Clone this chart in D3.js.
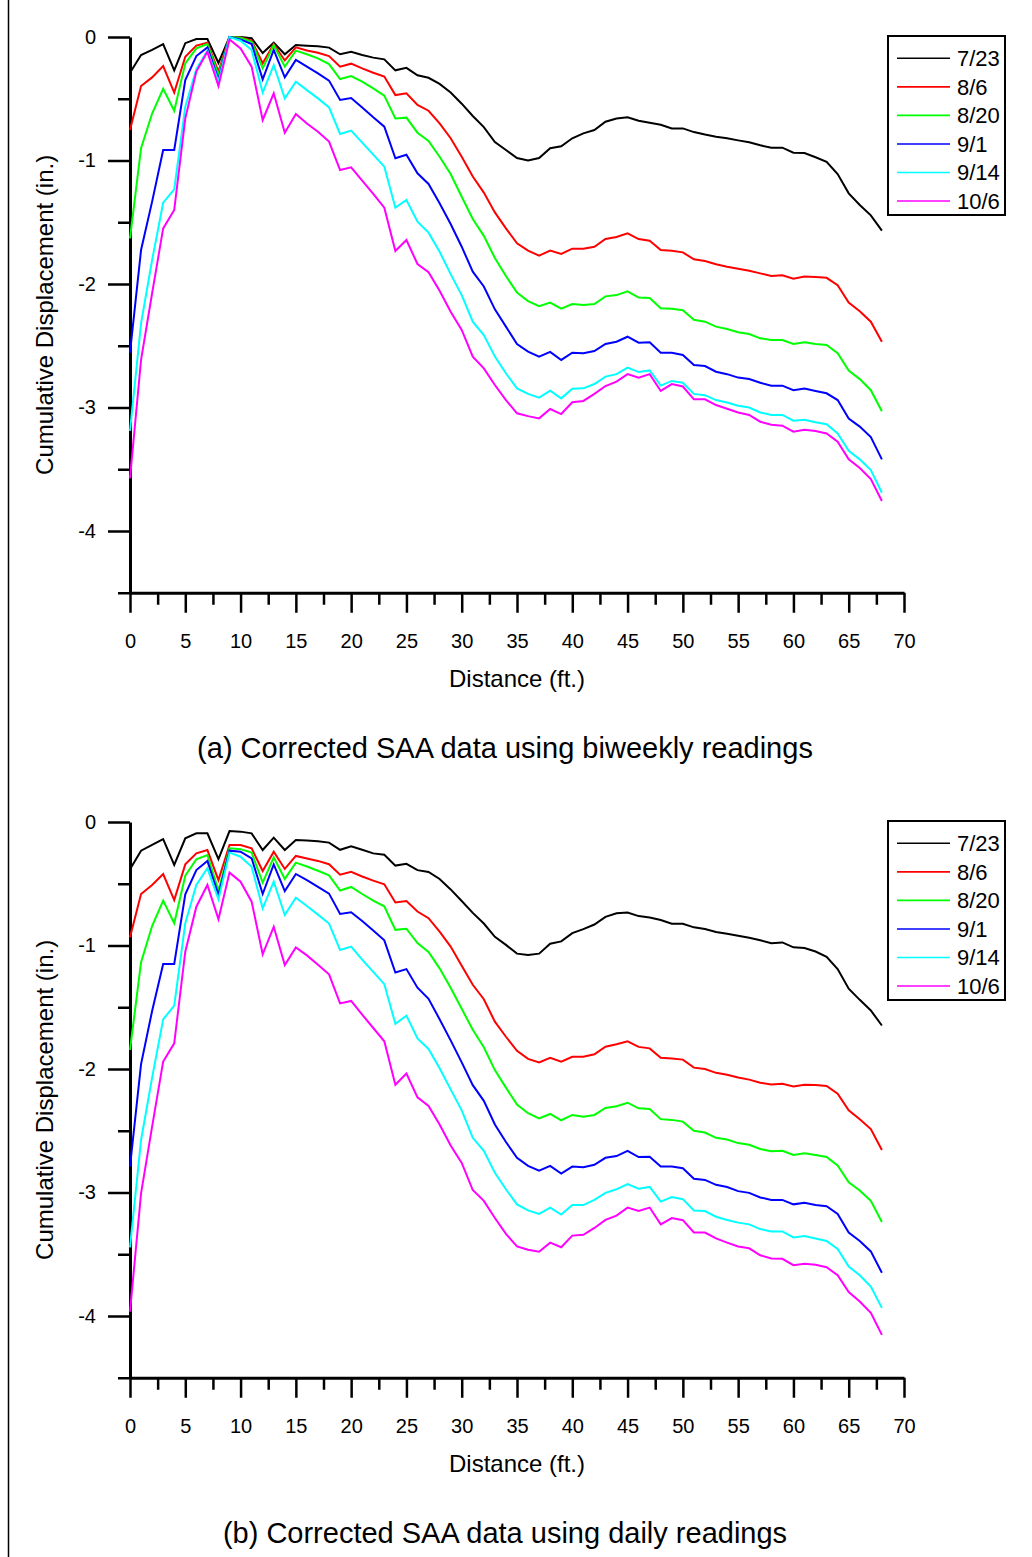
<!DOCTYPE html>
<html><head><meta charset="utf-8">
<script src="https://cdn.jsdelivr.net/npm/d3@7"></script>
<style>
body{margin:0;background:#fff}
svg{display:block}
text{font-family:"Liberation Sans",Arial,Helvetica,sans-serif;fill:#000}
</style>
</head><body>
<svg id="chart" width="1032" height="1557"></svg>
<script>
// ---------------- data ----------------
const distance = [0,1,2,3,4,5,6,7,8,9,10,11,12,13,14,15,16,17,18,19,20,21,22,23,24,25,26,27,28,29,30,31,32,33,34,35,36,37,38,39,40,41,42,43,44,45,46,47,48,49,50,51,52,53,54,55,56,57,58,59,60,61,62,63,64,65,66,67,68];
const seriesNames = ["7/23","8/6","8/20","9/1","9/14","10/6"];
const xTicks = [0,5,10,15,20,25,30,35,40,45,50,55,60,65,70];
const xMinorTicks = [2.5,7.5,12.5,17.5,22.5,27.5,32.5,37.5,42.5,47.5,52.5,57.5,62.5,67.5];
const yTicks = [0,-1,-2,-3,-4];
const yMinorTicks = [-0.5,-1.5,-2.5,-3.5,-4.5];
const xTitle = "Distance (ft.)";
const yTitle = "Cumulative Displacement (in.)";
const captions = ["(a) Corrected SAA data using biweekly readings","(b) Corrected SAA data using daily readings"];

// (a) biweekly readings
const biweekly_0723 = [-0.29,-0.146,-0.105,-0.057,-0.27,-0.05,-0.016,-0.016,-0.21,0,0,-0.01,-0.13,-0.046,-0.14,-0.065,-0.07,-0.075,-0.086,-0.14,-0.119,-0.146,-0.167,-0.181,-0.27,-0.25,-0.31,-0.33,-0.38,-0.45,-0.54,-0.64,-0.73,-0.85,-0.915,-0.98,-1.0,-0.98,-0.90,-0.885,-0.82,-0.78,-0.753,-0.686,-0.66,-0.65,-0.678,-0.694,-0.71,-0.74,-0.74,-0.77,-0.79,-0.807,-0.82,-0.837,-0.853,-0.877,-0.896,-0.896,-0.937,-0.94,-0.974,-1.01,-1.11,-1.266,-1.36,-1.444,-1.568];
const biweekly_0806 = [-0.753,-0.397,-0.327,-0.235,-0.45,-0.16,-0.07,-0.046,-0.28,0,-0.003,-0.03,-0.213,-0.057,-0.19,-0.084,-0.11,-0.127,-0.154,-0.24,-0.216,-0.254,-0.289,-0.32,-0.47,-0.456,-0.55,-0.597,-0.70,-0.82,-0.97,-1.13,-1.26,-1.42,-1.55,-1.67,-1.73,-1.77,-1.73,-1.757,-1.714,-1.714,-1.698,-1.636,-1.62,-1.59,-1.636,-1.65,-1.725,-1.73,-1.744,-1.80,-1.814,-1.84,-1.86,-1.876,-1.892,-1.914,-1.935,-1.93,-1.957,-1.94,-1.943,-1.95,-2.01,-2.15,-2.22,-2.305,-2.467];
const biweekly_0820 = [-1.63,-0.90,-0.62,-0.42,-0.597,-0.213,-0.092,-0.057,-0.308,0,-0.006,-0.038,-0.254,-0.065,-0.24,-0.11,-0.14,-0.173,-0.219,-0.34,-0.316,-0.362,-0.416,-0.475,-0.66,-0.653,-0.775,-0.842,-0.97,-1.11,-1.293,-1.474,-1.61,-1.79,-1.935,-2.07,-2.138,-2.18,-2.15,-2.2,-2.162,-2.17,-2.162,-2.10,-2.09,-2.06,-2.11,-2.113,-2.197,-2.2,-2.213,-2.29,-2.305,-2.345,-2.364,-2.39,-2.405,-2.44,-2.453,-2.453,-2.486,-2.472,-2.486,-2.494,-2.56,-2.70,-2.77,-2.86,-3.03];
const biweekly_0901 = [-2.556,-1.725,-1.333,-0.915,-0.915,-0.348,-0.154,-0.084,-0.343,0,-0.019,-0.057,-0.343,-0.105,-0.327,-0.186,-0.24,-0.294,-0.353,-0.51,-0.494,-0.57,-0.65,-0.726,-0.982,-0.953,-1.104,-1.19,-1.347,-1.514,-1.698,-1.90,-2.02,-2.205,-2.345,-2.486,-2.548,-2.588,-2.55,-2.615,-2.556,-2.56,-2.543,-2.486,-2.467,-2.427,-2.475,-2.472,-2.556,-2.556,-2.575,-2.656,-2.664,-2.71,-2.73,-2.758,-2.77,-2.80,-2.823,-2.823,-2.86,-2.847,-2.866,-2.885,-2.94,-3.09,-3.155,-3.24,-3.42];
const biweekly_0914 = [-3.19,-2.318,-1.806,-1.342,-1.233,-0.564,-0.26,-0.11,-0.362,0,-0.03,-0.105,-0.45,-0.227,-0.497,-0.362,-0.43,-0.497,-0.57,-0.785,-0.758,-0.855,-0.953,-1.05,-1.382,-1.32,-1.495,-1.584,-1.738,-1.92,-2.09,-2.305,-2.413,-2.588,-2.723,-2.845,-2.89,-2.92,-2.864,-2.926,-2.848,-2.845,-2.81,-2.75,-2.73,-2.677,-2.713,-2.70,-2.823,-2.785,-2.80,-2.89,-2.90,-2.94,-2.96,-2.985,-3.0,-3.04,-3.06,-3.06,-3.107,-3.10,-3.12,-3.136,-3.21,-3.35,-3.42,-3.506,-3.69];
const biweekly_1006 = [-3.574,-2.615,-2.075,-1.55,-1.40,-0.66,-0.28,-0.12,-0.397,-0.02,-0.092,-0.24,-0.672,-0.456,-0.775,-0.623,-0.70,-0.767,-0.847,-1.077,-1.055,-1.163,-1.27,-1.382,-1.733,-1.644,-1.838,-1.905,-2.054,-2.224,-2.372,-2.588,-2.683,-2.818,-2.94,-3.047,-3.07,-3.088,-3.012,-3.053,-2.958,-2.947,-2.89,-2.826,-2.79,-2.73,-2.758,-2.73,-2.866,-2.81,-2.83,-2.934,-2.934,-2.98,-3.01,-3.04,-3.06,-3.115,-3.14,-3.147,-3.196,-3.18,-3.19,-3.21,-3.277,-3.42,-3.49,-3.58,-3.757];

// (b) daily readings
const daily_0723 = [-0.383,-0.232,-0.186,-0.138,-0.348,-0.132,-0.092,-0.092,-0.30,-0.073,-0.078,-0.092,-0.227,-0.127,-0.227,-0.146,-0.15,-0.155,-0.167,-0.225,-0.197,-0.225,-0.254,-0.265,-0.353,-0.339,-0.39,-0.404,-0.461,-0.546,-0.64,-0.736,-0.822,-0.93,-0.995,-1.066,-1.077,-1.066,-0.986,-0.967,-0.90,-0.867,-0.83,-0.768,-0.739,-0.733,-0.762,-0.773,-0.793,-0.824,-0.824,-0.853,-0.867,-0.89,-0.904,-0.921,-0.938,-0.958,-0.981,-0.975,-1.015,-1.02,-1.049,-1.091,-1.191,-1.35,-1.44,-1.526,-1.648];
const daily_0806 = [-0.934,-0.583,-0.51,-0.421,-0.632,-0.343,-0.254,-0.227,-0.47,-0.186,-0.186,-0.213,-0.397,-0.24,-0.38,-0.275,-0.295,-0.315,-0.342,-0.427,-0.404,-0.441,-0.475,-0.504,-0.651,-0.64,-0.725,-0.779,-0.887,-1.009,-1.163,-1.318,-1.435,-1.617,-1.739,-1.853,-1.918,-1.947,-1.909,-1.941,-1.901,-1.901,-1.881,-1.819,-1.80,-1.776,-1.821,-1.833,-1.909,-1.915,-1.924,-1.989,-2.0,-2.031,-2.046,-2.069,-2.086,-2.111,-2.125,-2.12,-2.142,-2.128,-2.13,-2.137,-2.20,-2.335,-2.406,-2.486,-2.656];
const daily_0820 = [-1.846,-1.136,-0.842,-0.637,-0.82,-0.435,-0.302,-0.267,-0.556,-0.213,-0.22,-0.248,-0.491,-0.286,-0.461,-0.329,-0.36,-0.395,-0.432,-0.555,-0.526,-0.583,-0.637,-0.683,-0.873,-0.864,-0.981,-1.052,-1.185,-1.342,-1.512,-1.682,-1.824,-2.009,-2.151,-2.287,-2.358,-2.40,-2.364,-2.415,-2.372,-2.386,-2.372,-2.316,-2.301,-2.273,-2.318,-2.324,-2.406,-2.412,-2.426,-2.50,-2.514,-2.557,-2.571,-2.60,-2.614,-2.648,-2.665,-2.662,-2.696,-2.682,-2.696,-2.713,-2.781,-2.917,-2.983,-3.068,-3.239];
const daily_0901 = [-2.791,-1.96,-1.53,-1.15,-1.15,-0.586,-0.389,-0.316,-0.591,-0.232,-0.24,-0.294,-0.583,-0.343,-0.559,-0.421,-0.47,-0.525,-0.58,-0.745,-0.731,-0.802,-0.878,-0.958,-1.219,-1.191,-1.342,-1.432,-1.597,-1.768,-1.946,-2.131,-2.258,-2.449,-2.591,-2.719,-2.784,-2.823,-2.784,-2.846,-2.79,-2.795,-2.776,-2.719,-2.705,-2.662,-2.713,-2.71,-2.79,-2.79,-2.804,-2.889,-2.898,-2.938,-2.955,-2.989,-3.003,-3.04,-3.06,-3.06,-3.096,-3.083,-3.102,-3.111,-3.173,-3.324,-3.392,-3.477,-3.65];
const daily_0914 = [-3.444,-2.575,-2.07,-1.598,-1.487,-0.82,-0.51,-0.375,-0.626,-0.248,-0.281,-0.362,-0.699,-0.483,-0.753,-0.613,-0.68,-0.75,-0.822,-1.037,-1.009,-1.114,-1.214,-1.313,-1.634,-1.568,-1.753,-1.838,-1.994,-2.165,-2.335,-2.557,-2.662,-2.841,-2.974,-3.096,-3.145,-3.173,-3.122,-3.179,-3.102,-3.102,-3.06,-3.003,-2.974,-2.932,-2.969,-2.955,-3.074,-3.037,-3.054,-3.145,-3.15,-3.196,-3.222,-3.244,-3.258,-3.296,-3.315,-3.315,-3.364,-3.352,-3.372,-3.392,-3.457,-3.60,-3.67,-3.761,-3.934];
const daily_1006 = [-3.965,-3.007,-2.467,-1.94,-1.792,-1.05,-0.686,-0.51,-0.788,-0.41,-0.483,-0.645,-1.071,-0.848,-1.158,-1.015,-1.08,-1.155,-1.233,-1.469,-1.449,-1.56,-1.668,-1.776,-2.128,-2.037,-2.23,-2.299,-2.449,-2.619,-2.761,-2.98,-3.068,-3.207,-3.335,-3.437,-3.463,-3.48,-3.406,-3.443,-3.349,-3.343,-3.287,-3.222,-3.187,-3.122,-3.15,-3.122,-3.258,-3.207,-3.224,-3.324,-3.324,-3.372,-3.406,-3.437,-3.452,-3.508,-3.534,-3.537,-3.588,-3.577,-3.585,-3.605,-3.67,-3.806,-3.883,-3.974,-4.153];

// ---------------- styles ----------------
const colors = ["#000000","#ff0000","#00ff00","#0000ff","#00ffff","#ff00ff"];

// ---------------- drawing ----------------
const svg = d3.select("#chart");
svg.append("rect").attr("width",1032).attr("height",1557).attr("fill","#fff");
svg.append("line").attr("x1",8.5).attr("x2",8.5).attr("y1",0).attr("y2",1557)
  .attr("stroke","#000").attr("stroke-width",1.5);

function drawPanel(top, series, caption) {
  const left = 130, right = 904, plotH = 555.75;
  const x = d3.scaleLinear().domain([0,70]).range([left,right]);
  const y = d3.scaleLinear().domain([-4.5,0]).range([top+plotH, top]);
  const g = svg.append("g");
  const bottom = y(-4.5);

  // x axis minor ticks
  const xm = g.append("g").attr("transform",`translate(0,${bottom})`)
    .call(d3.axisBottom(x).tickValues(xMinorTicks).tickSize(12).tickSizeOuter(0).tickFormat(""));
  xm.select(".domain").remove();
  // x axis major ticks + labels
  const xa = g.append("g").attr("transform",`translate(0,${bottom})`)
    .call(d3.axisBottom(x).tickValues(xTicks).tickSize(20).tickSizeOuter(0).tickPadding(21).tickFormat(d3.format("d")));
  // y axis minor ticks
  const ym = g.append("g").attr("transform",`translate(${left},0)`)
    .call(d3.axisLeft(y).tickValues(yMinorTicks).tickSize(12).tickSizeOuter(0).tickFormat(""));
  ym.select(".domain").remove();
  // y axis major ticks + labels
  const ya = g.append("g").attr("transform",`translate(${left},0)`)
    .call(d3.axisLeft(y).tickValues(yTicks).tickSize(22).tickSizeOuter(0).tickPadding(12)
      .tickFormat(d => d === 0 ? "0" : "-" + Math.abs(d)));

  g.selectAll(".domain").attr("stroke","#000").attr("stroke-width",3);
  g.selectAll(".tick line").attr("stroke","#000").attr("stroke-width",2.5);
  g.selectAll(".tick text").attr("font-size",20).attr("font-family","Liberation Sans, Arial, sans-serif").attr("fill","#000");

  // data lines
  const line = d3.line().x((d,i) => x(distance[i])).y(d => y(d));
  series.forEach((s,k) => {
    g.append("path").attr("d", line(s)).attr("fill","none")
      .attr("stroke", colors[k]).attr("stroke-width", 2).attr("stroke-linejoin","miter");
  });

  // axis titles
  g.append("text").attr("x", (left+right)/2).attr("y", bottom + 86).attr("dy","0.35em")
    .attr("text-anchor","middle").attr("font-size",24).text(xTitle);
  g.append("text").attr("transform",`translate(45,${(top+bottom)/2}) rotate(-90)`)
    .attr("dy","0.35em").attr("text-anchor","middle").attr("font-size",24).text(yTitle);
  // caption
  g.append("text").attr("x", 505).attr("y", bottom + 155).attr("dy","0.35em")
    .attr("text-anchor","middle").attr("font-size",29).text(caption);

  // legend
  const lg = g.append("g").attr("transform",`translate(888,${top-1})`);
  lg.append("rect").attr("x",0).attr("y",0).attr("width",117).attr("height",179)
    .attr("fill","#fff").attr("stroke","#000").attr("stroke-width",2);
  seriesNames.forEach((name,k) => {
    const yy = 22.3 + k*28.55;
    lg.append("line").attr("x1",9).attr("x2",62).attr("y1",yy).attr("y2",yy)
      .attr("stroke",colors[k]).attr("stroke-width",1.6);
    lg.append("text").attr("x",69).attr("y",yy).attr("dy","0.35em")
      .attr("font-size",22).text(name);
  });
}

drawPanel(37, [biweekly_0723,biweekly_0806,biweekly_0820,biweekly_0901,biweekly_0914,biweekly_1006], captions[0]);
drawPanel(822, [daily_0723,daily_0806,daily_0820,daily_0901,daily_0914,daily_1006], captions[1]);
</script>
</body></html>
